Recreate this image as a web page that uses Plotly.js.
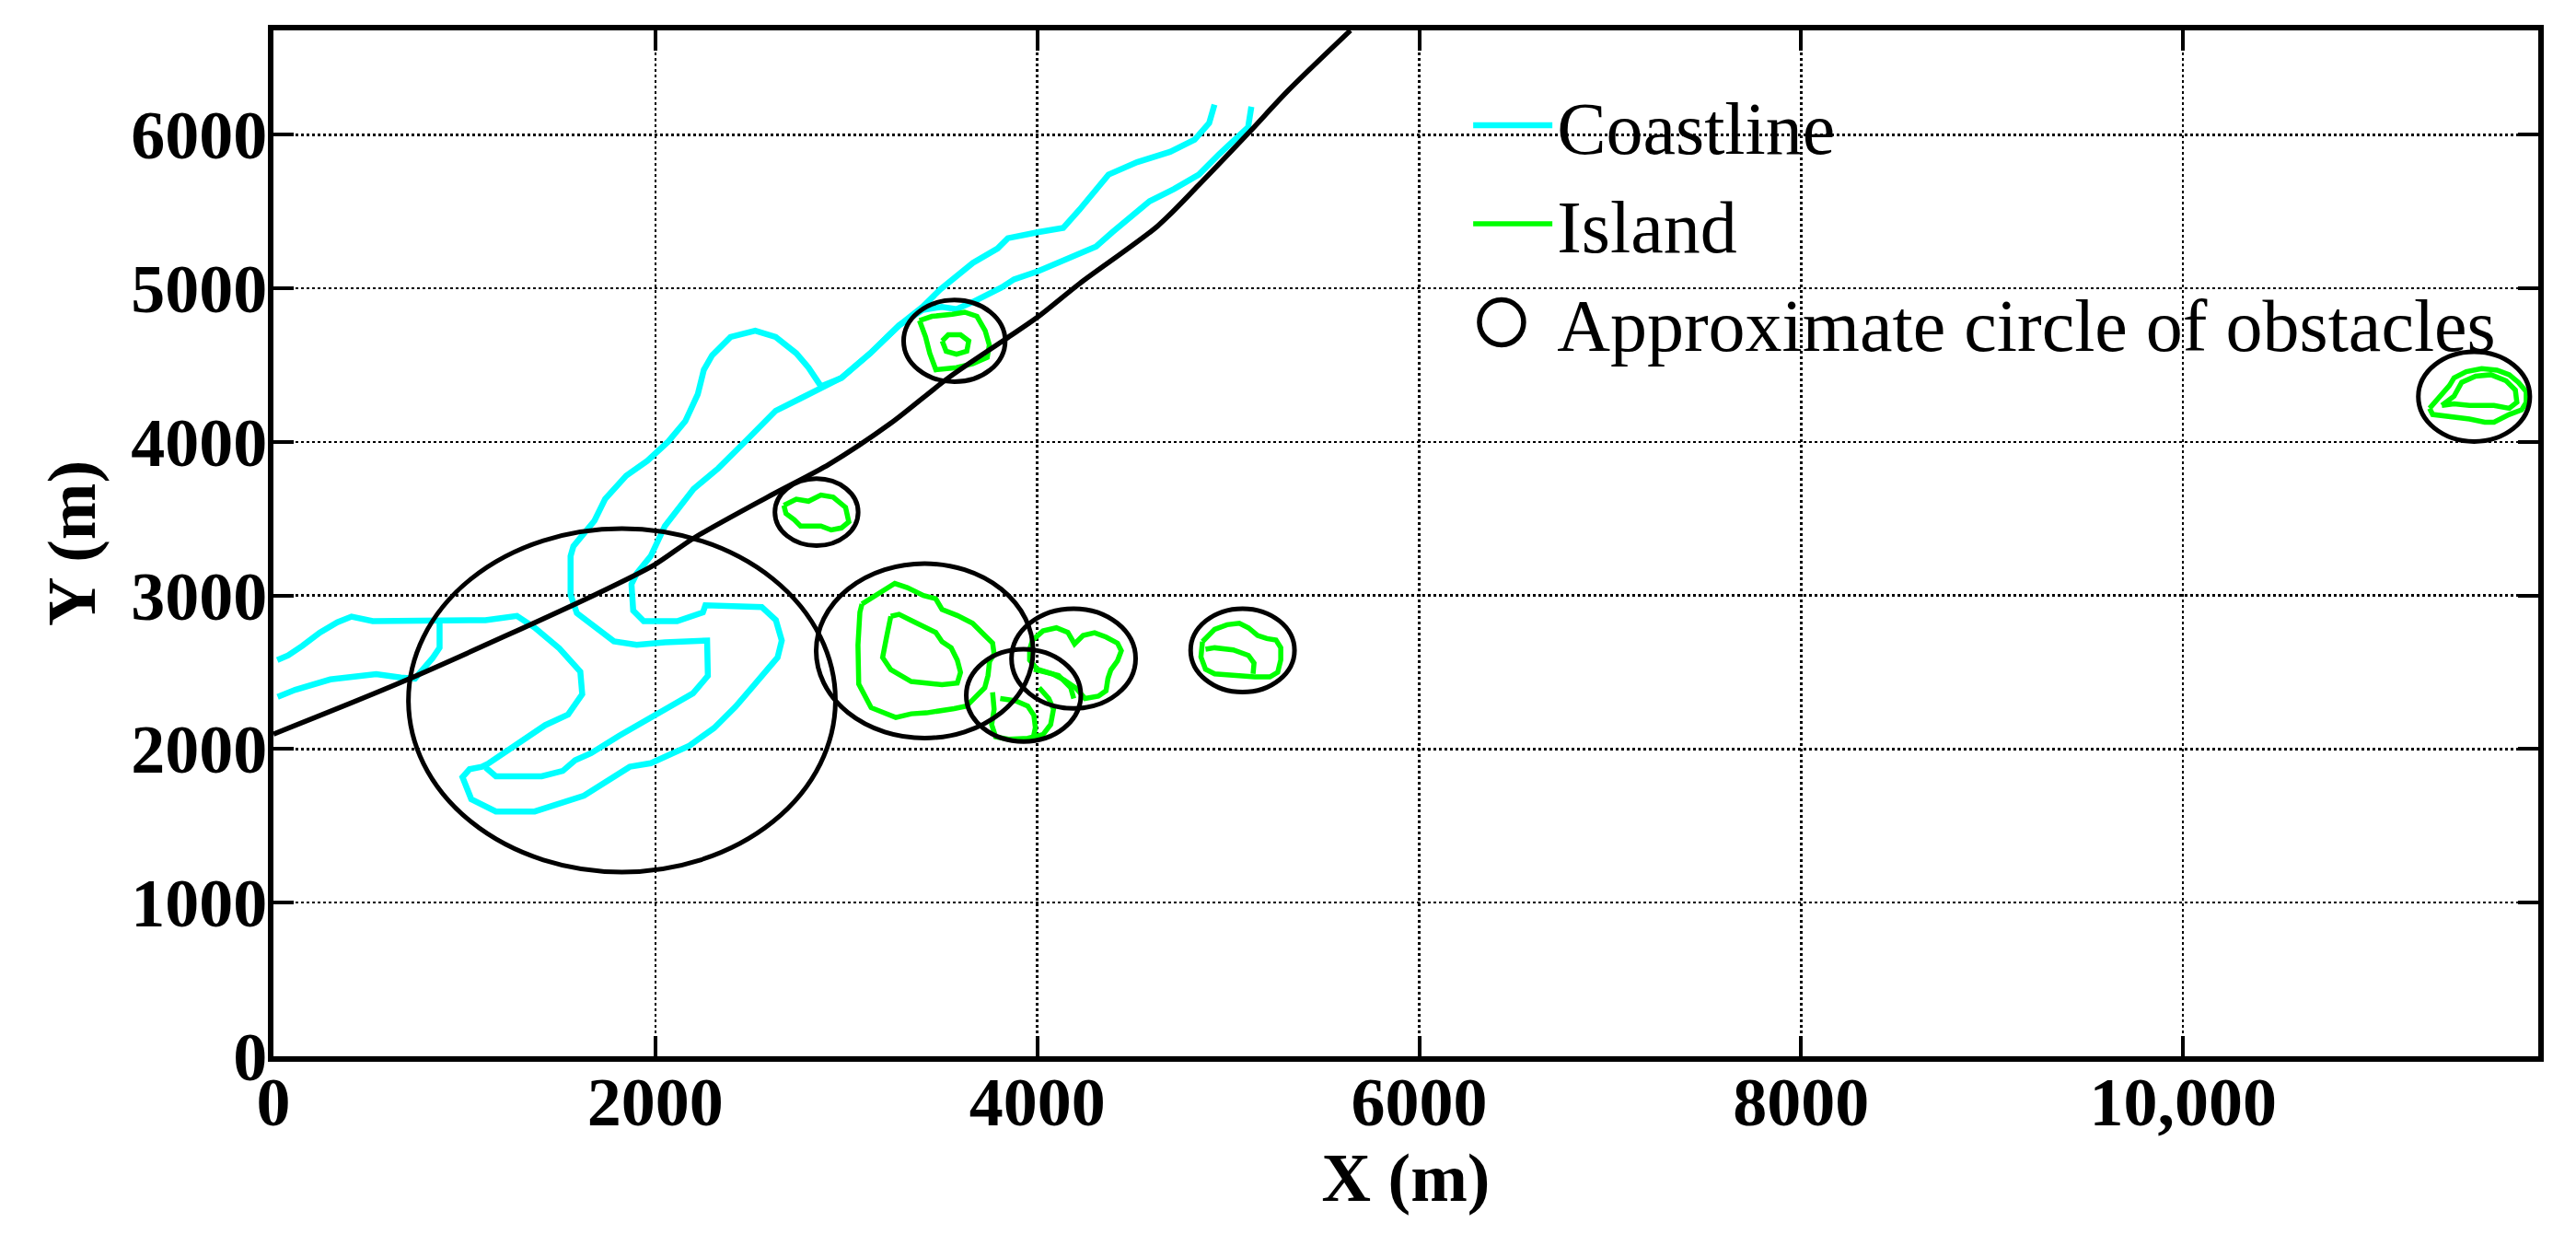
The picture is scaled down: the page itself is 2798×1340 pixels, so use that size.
<!DOCTYPE html>
<html>
<head>
<meta charset="utf-8">
<script src="https://cdn.plot.ly/plotly-3.0.1.min.js"></script>
<style>html,body{margin:0;padding:0;background:#fff}#chart{width:2798px;height:1340px}</style>
</head>
<body>
<div id="chart"></div>
<script>
// ---------- Coastline (polylines separated by null) ----------
var coastX = [
  20,77,151,243,335,409,520,851,1110,1275,1368,1497,1607,1617,1543,1423,1294,1128,1091,1027,990,1036,1165,1368,1626,1737,1866,1976,2179,2308,2419,2511,2640,2662,2631,2557,2262,2249,2114,1939,1884,1875,1902,1976,2050,2200,2329,2480,2630,2759,2867,2974,3125,3276,3400,3500,3577,3663,3813,3878,4007,4157,4308,4394,4480,4588,4717,4846,4953,5040,5104,5121,
  null,
  22,114,298,427,538,667,741,833,870,870,
  null,
  1110,1165,1405,1515,1580,1663,1810,1995,2087,2197,2275,2271,2050,1902,1783,1681,1589,1556,1556,1571,1635,1681,1737,1847,1958,2068,2157,2222,2254,2297,2394,2523,2630,2738,2802,2867,2974,3125,3276,3400,3491,3663,3792,3846,4007,4136,4222,4308,4373,4523,4695,4824,4900,4928
];
var coastY = [
  2580,2610,2672,2759,2826,2863,2833,2833,2840,2867,2791,2656,2505,2358,2225,2156,2046,1908,1885,1869,1817,1674,1594,1594,1697,1789,1885,1908,2023,2138,2275,2408,2597,2707,2840,2925,2936,2890,2833,2833,2902,3074,3143,3257,3453,3694,3828,4015,4203,4283,4350,4417,4577,4759,4860,4880,4865,4912,5006,5059,5113,5193,5273,5367,5460,5567,5648,5741,5875,5969,6049,6183,
  null,
  2340,2386,2454,2473,2489,2466,2459,2592,2661,2826,
  null,
  1881,1823,1823,1858,1927,1973,2087,2214,2282,2363,2477,2707,2695,2679,2702,2798,2886,3005,3257,3321,3413,3487,3629,3780,3877,4003,4136,4310,4470,4564,4684,4724,4684,4577,4484,4363,4417,4577,4759,4880,4992,5166,5260,5327,5367,5394,5514,5648,5741,5822,5889,5969,6076,6196
];

// ---------- Islands (closed polylines separated by null) ----------
var islandX = [
  3383,3448,3555,3620,3684,3727,3749,3738,3663,3577,3469,3437,3415,3394,3383, null,
  3502,3534,3598,3641,3631,3577,3523,3502, null,
  2673,2738,2802,2867,2931,2996,3013,2974,2921,2867,2760,2727,2684,2673, null,
  3082,3147,3254,3319,3404,3468,3501,3581,3661,3725,3766,3774,3750,3742,3725,3661,3629,3565,3501,3420,3340,3259,3130,3065,3061,3071,3082, null,
  3233,3276,3340,3404,3468,3501,3549,3581,3598,3581,3501,3420,3340,3233,3190,3211,3233, null,
  3766,3774,3761,3782,3850,3950,4030,4070,4085,4060,4010, null,
  3806,3886,3950,3982,3990,3980, null,
  3975,4030,4100,4160,4195,4240,4300,4360,4420,4440,4420,4385,4370,4360,4320,4250,4200,4140,4080,4000,3960,3960,3975, null,
  3982,4047,4111,4143,4175,4191, null,
  4865,4929,4994,5058,5106,5154,5202,5250,5275,5275,5259,5218,5138,5058,4929,4881,4857,4865, null,
  4881,4929,5026,5106,5135,5130, null,
  11291,11339,11395,11419,11483,11564,11644,11708,11756,11797,11797,11773,11708,11628,11580,11500,11435,11355,11307,11291, null,
  11355,11419,11459,11532,11612,11692,11740,11748,11708,11628,11500,11419,11355
];
var islandY = [
  4791,4818,4832,4845,4818,4725,4631,4551,4510,4484,4470,4577,4684,4765,4791, null,
  4658,4698,4698,4658,4591,4572,4591,4658, null,
  3587,3627,3614,3654,3641,3574,3480,3440,3427,3453,3453,3494,3534,3587, null,
  2945,2999,3079,3052,3000,2979,2910,2870,2820,2740,2690,2620,2570,2480,2400,2320,2280,2264,2250,2236,2230,2206,2270,2424,2677,2891,2945, null,
  2865,2878,2838,2800,2760,2700,2660,2580,2500,2430,2420,2430,2440,2517,2597,2731,2865, null,
  2370,2260,2160,2080,2065,2070,2095,2160,2260,2330,2400, null,
  2330,2315,2280,2220,2140,2080, null,
  2710,2770,2790,2760,2685,2740,2758,2730,2690,2640,2575,2515,2460,2380,2345,2330,2400,2450,2490,2520,2580,2650,2710, null,
  2520,2500,2480,2440,2400,2330, null,
  2700,2780,2810,2820,2790,2740,2720,2710,2660,2580,2500,2470,2470,2480,2490,2520,2600,2700, null,
  2650,2660,2646,2610,2560,2490, null,
  4219,4288,4368,4418,4458,4478,4468,4438,4388,4328,4258,4209,4179,4129,4129,4149,4159,4169,4179,4219, null,
  4238,4298,4388,4428,4438,4398,4338,4258,4219,4238,4238,4248,4238
];

// ---------- Black path curve ----------
var pathX = [0, 704, 1690, 1995, 2200, 2587, 2910, 3233, 3534, 3835, 4007, 4222, 4631, 4846, 5104, 5315, 5640];
var pathY = [2098, 2454, 3009, 3200, 3373, 3641, 3855, 4122, 4417, 4671, 4818, 5032, 5407, 5674, 6009, 6290, 6680];

// ---------- Approximate circles of obstacles ----------
var circleX = [1825, 3566, 2844, 3410, 3928, 4190, 5075, 11524];
var circleY = [2318, 4658, 3543, 2640, 2350, 2590, 2643, 4295];
var circleR = [1118, 266, 218, 568, 300, 325, 272, 292];

// ---------- Axis ticks ----------
var xTickVals = [0, 2000, 4000, 6000, 8000, 10000];
var xTickText = ['0', '2000', '4000', '6000', '8000', '10,000'];
var yTickVals = [0, 1000, 2000, 3000, 4000, 5000, 6000];
var yTickText = ['0', '1000', '2000', '3000', '4000', '5000', '6000'];

var serif = 'Liberation Serif, Times New Roman, serif';
var tickFont = {family: serif, size: 74, color: '#000', weight: 'bold'};

var traces = [
  {x: coastX, y: coastY, type: 'scatter', mode: 'lines', name: 'Coastline',
   line: {color: '#00FFFF', width: 6.5}, connectgaps: false},
  {x: islandX, y: islandY, type: 'scatter', mode: 'lines', name: 'Island',
   line: {color: '#00FF00', width: 5.5}, connectgaps: false},
  {x: [null], y: [null], type: 'scatter', mode: 'markers', name: 'Approximate circle of obstacles',
   marker: {symbol: 'circle-open', size: 50, color: 'rgba(0,0,0,0)', line: {width: 0, color: 'rgba(0,0,0,0)'}}},
  {x: pathX, y: pathY, type: 'scatter', mode: 'lines', showlegend: false,
   line: {color: '#000', width: 5.5, shape: 'spline', smoothing: 0.8}}
];

var shapes = circleX.map(function (cx, i) {
  return {type: 'circle', xref: 'x', yref: 'y',
    x0: cx - circleR[i], x1: cx + circleR[i],
    y0: circleY[i] - circleR[i], y1: circleY[i] + circleR[i],
    line: {color: '#000', width: 5}, layer: 'above'};
});
// enlarged legend glyph for the circle entry (legend markers are capped at 16px)
shapes.push({type: 'circle', xref: 'paper', yref: 'paper',
  x0: 0.5325, x1: 0.5520, y0: 0.6935, y1: 0.7375,
  line: {color: '#000', width: 5.5}, layer: 'above'});

var axisCommon = {
  showline: true, linecolor: '#000', linewidth: 6, mirror: 'ticks',
  ticks: 'inside', ticklen: 22, tickwidth: 4, tickcolor: '#000',
  showgrid: true, gridcolor: '#000', gridwidth: 2.5, griddash: 'dot',
  zeroline: false, tickfont: tickFont, automargin: false
};

var layout = {
  width: 2798, height: 1340,
  margin: {l: 297, r: 41, t: 33, b: 193, pad: 0},
  paper_bgcolor: '#fff', plot_bgcolor: '#fff',
  showlegend: true,
  legend: {x: 0.5277, y: 0.96, xanchor: 'left', yanchor: 'top',
    bgcolor: 'rgba(0,0,0,0)', borderwidth: 0,
    font: {family: serif, size: 80, color: '#000'}, itemwidth: 86},
  xaxis: Object.assign({}, axisCommon, {
    range: [0, 11860], tickmode: 'array', tickvals: xTickVals, ticktext: xTickText,
    ticklabelstandoff: -20,
    title: {text: 'X (m)', font: {family: serif, size: 74, color: '#000', weight: 'bold'}, standoff: 0}
  }),
  yaxis: Object.assign({}, axisCommon, {
    range: [0, 6680], tickmode: 'array', tickvals: yTickVals, ticktext: yTickText,
    ticklabelstandoff: -14,
    title: {text: 'Y (m)', font: {family: serif, size: 74, color: '#000', weight: 'bold'}, standoff: 16}
  }),
  shapes: shapes
};

Plotly.newPlot('chart', traces, layout, {displayModeBar: false, staticPlot: true});
</script>
</body>
</html>
